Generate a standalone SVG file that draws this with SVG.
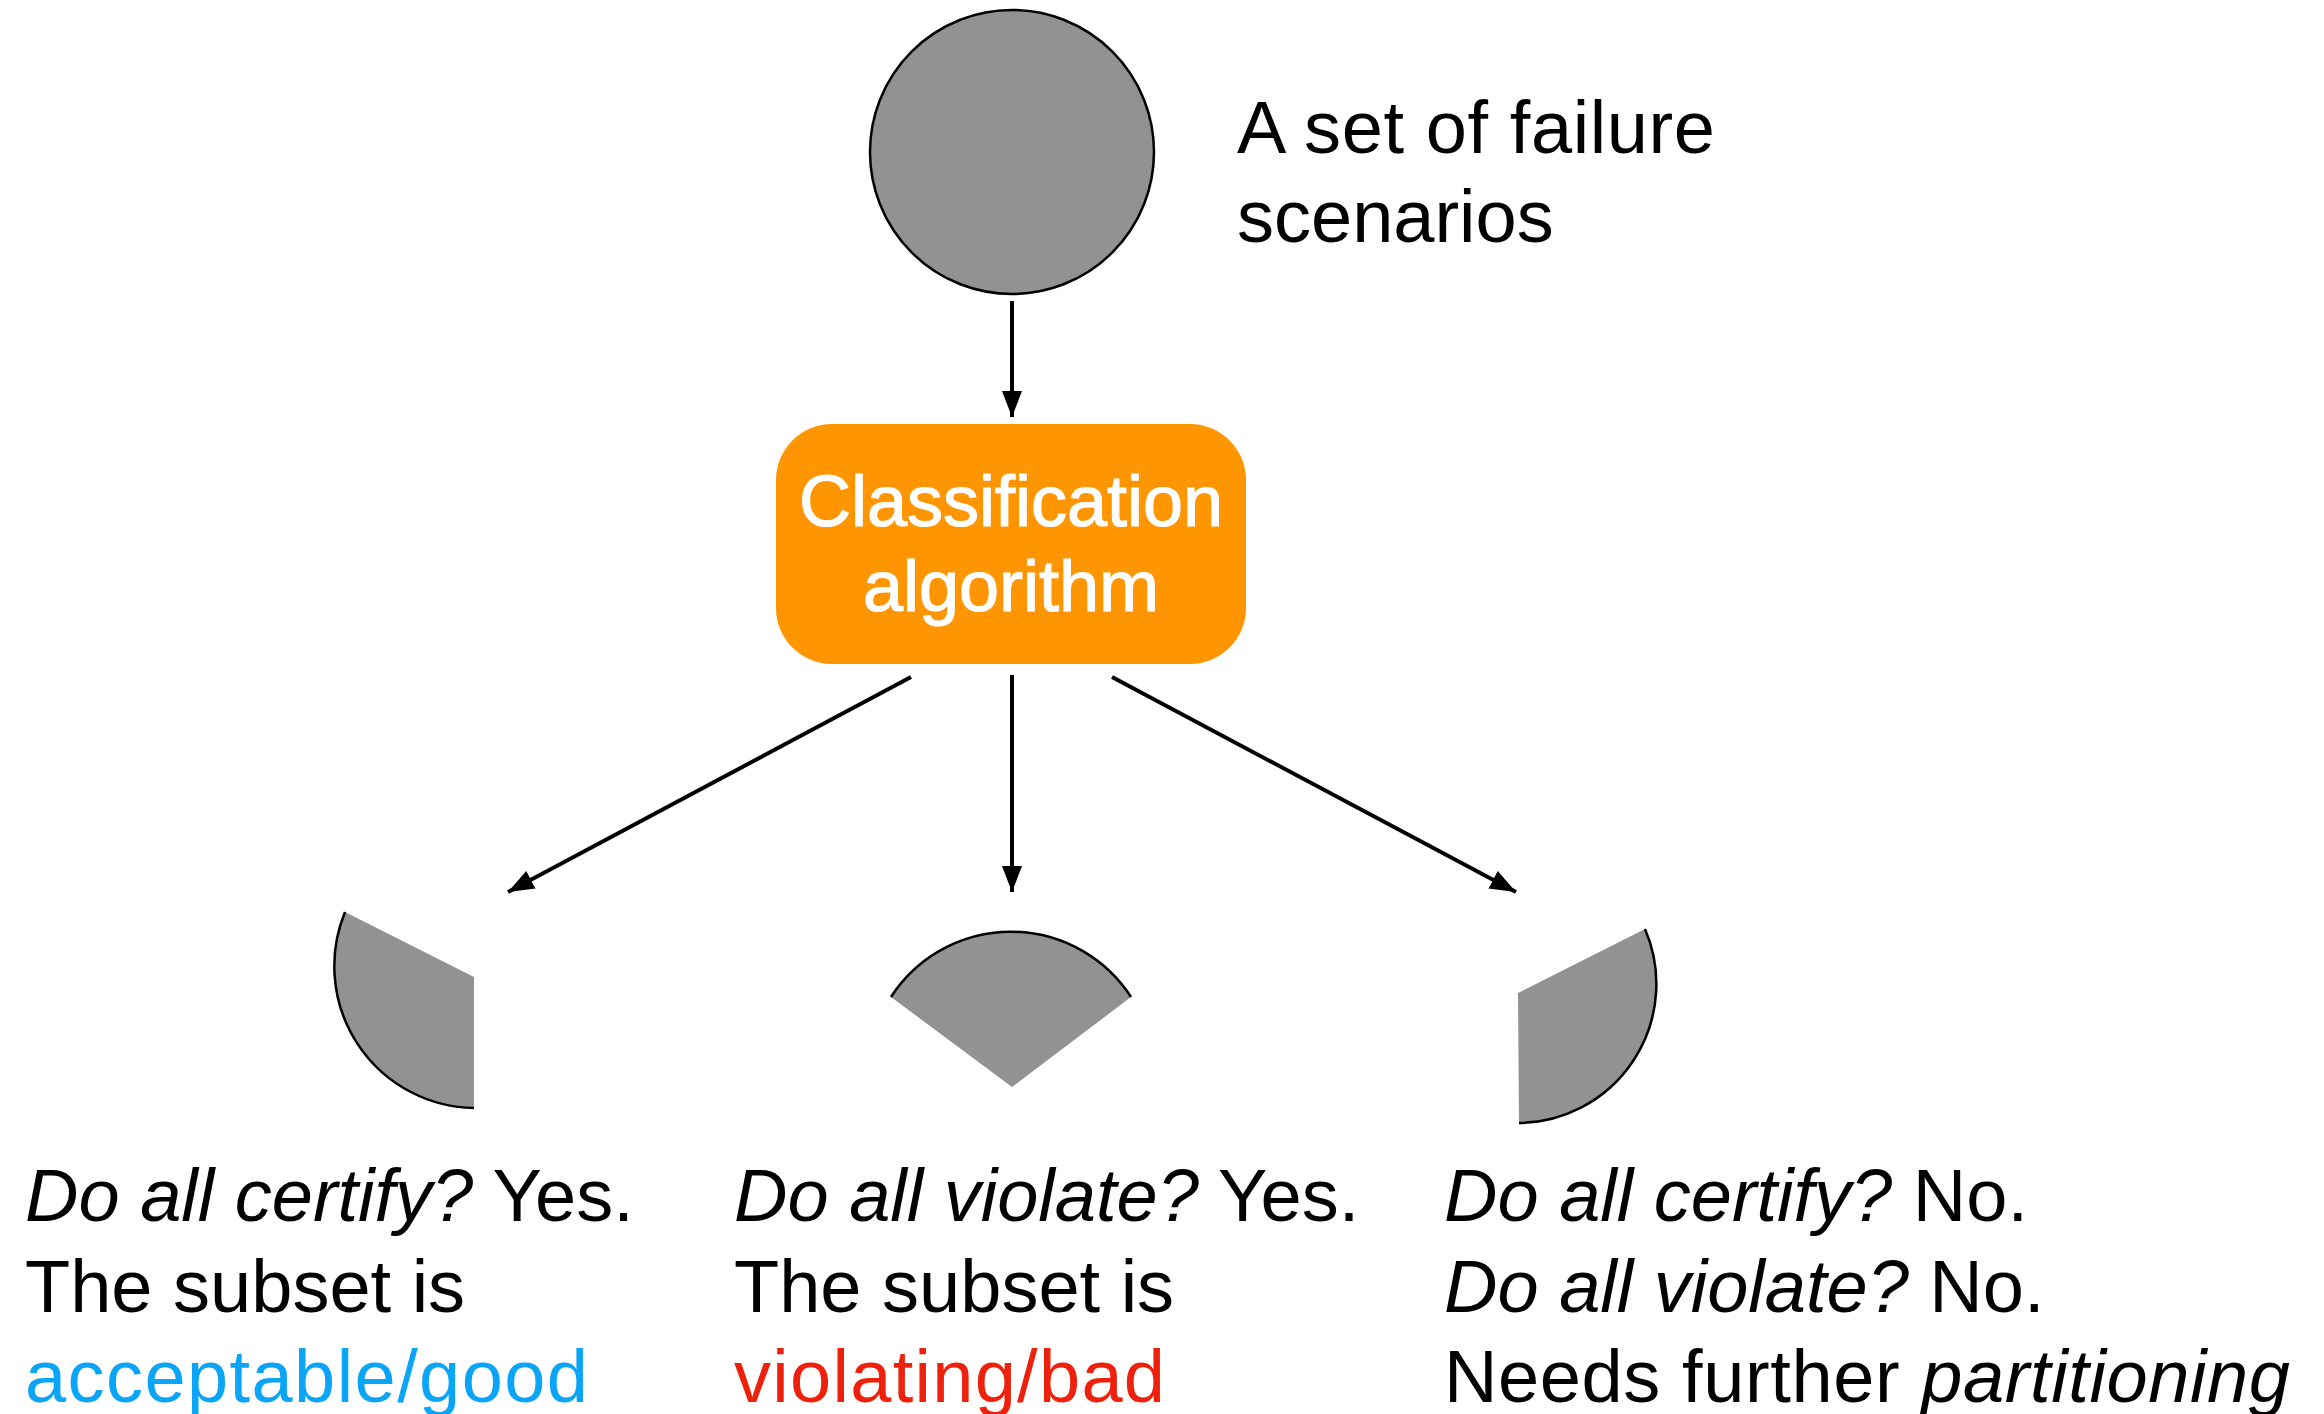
<svg xmlns="http://www.w3.org/2000/svg" width="2324" height="1414" viewBox="0 0 2324 1414">
  <style>
    .txt { font-family: "Liberation Sans", Arial, Helvetica, sans-serif; font-size: 74px; fill: #000; }
    .it { font-style: italic; }
    .box-label { font-family: "Liberation Sans", Arial, Helvetica, sans-serif; font-size: 72px; fill: #fff; stroke: #fff; stroke-width: 1.2; text-anchor: middle; }
    .piece { fill: #929292; stroke: none; }
    .rim { fill: none; stroke: #000; stroke-width: 2.5; }
    .edge { stroke: #000; stroke-width: 4; fill: none; marker-end: url(#arrow); }
  </style>
  <defs>
    <marker id="arrow" markerUnits="userSpaceOnUse" markerWidth="30" markerHeight="24" refX="26" refY="10" orient="auto">
      <path d="M0,0 L26,10 L0,20 Z" fill="#000"/>
    </marker>
  </defs>

  <rect width="2324" height="1414" fill="#fff"/>

  <!-- full set of scenarios -->
  <g id="scenario-set">
    <circle cx="1012" cy="152" r="142" fill="#929292" stroke="#000" stroke-width="2.5"/>
    <text class="txt" x="1237" y="153" textLength="478" lengthAdjust="spacing">A set of failure</text>
    <text class="txt" x="1237" y="242">scenarios</text>
  </g>

  <!-- classifier -->
  <g id="classifier">
    <rect x="776" y="424" width="470" height="240" rx="56" ry="56" fill="#FF9500"/>
    <text class="box-label" x="1011" y="526">Classification</text>
    <text class="box-label" x="1011" y="611">algorithm</text>
  </g>

  <!-- connectors -->
  <g id="connectors">
    <line class="edge" x1="1012" y1="301" x2="1012" y2="417"/>
    <line class="edge" x1="911" y1="677" x2="508" y2="892"/>
    <line class="edge" x1="1012" y1="675" x2="1012" y2="892"/>
    <line class="edge" x1="1112" y1="677" x2="1516" y2="892"/>
  </g>

  <!-- subset judged acceptable -->
  <g id="subset-good">
    <path class="piece" d="M474,977 L345,912 A142,142 0 0 0 474,1108 Z"/>
    <path class="rim" d="M345,912 A142,142 0 0 0 474,1108"/>
    <text class="txt" x="25" y="1221"><tspan class="it">Do all certify?</tspan> Yes.</text>
    <text class="txt" x="25" y="1312">The subset is</text>
    <text class="txt" x="25" y="1402" style="fill:#0BA5F7" textLength="563" lengthAdjust="spacing">acceptable/good</text>
  </g>

  <!-- subset judged violating -->
  <g id="subset-bad">
    <path class="piece" d="M1012,1087 L891,997 A143,143 0 0 1 1131,997 Z"/>
    <path class="rim" d="M891,997 A143,143 0 0 1 1131,997"/>
    <text class="txt" x="734" y="1221"><tspan class="it">Do all violate?</tspan> Yes.</text>
    <text class="txt" x="734" y="1312">The subset is</text>
    <text class="txt" x="734" y="1402" style="fill:#EE220C" textLength="431" lengthAdjust="spacing">violating/bad</text>
  </g>

  <!-- subset needing more work -->
  <g id="subset-split">
    <path class="piece" d="M1518,993 L1645,929 A139,139 0 0 1 1519,1123 Z"/>
    <path class="rim" d="M1645,929 A139,139 0 0 1 1519,1123"/>
    <text class="txt" x="1444" y="1221"><tspan class="it">Do all certify?</tspan> No.</text>
    <text class="txt" x="1444" y="1312"><tspan class="it">Do all violate?</tspan> No.</text>
    <text class="txt" x="1444" y="1402" textLength="846" lengthAdjust="spacing">Needs further <tspan class="it">partitioning</tspan></text>
  </g>
</svg>
